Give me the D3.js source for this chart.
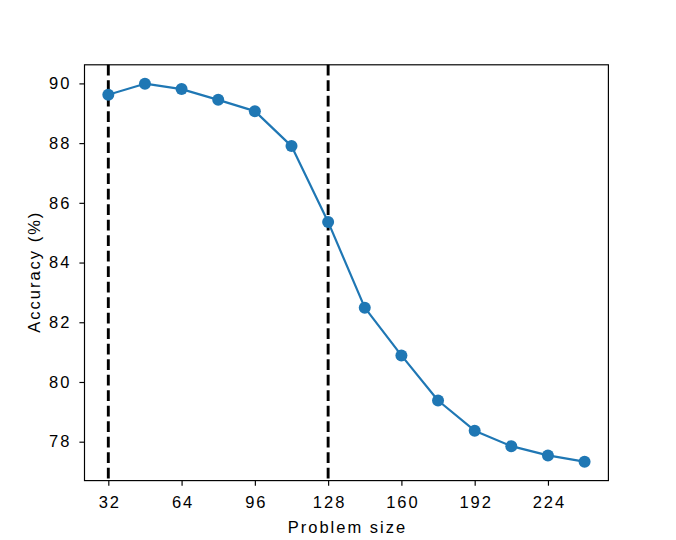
<!DOCTYPE html>
<html><head><meta charset="utf-8">
<script src="https://cdn.jsdelivr.net/npm/d3@7"></script>
<style>body{margin:0;background:#fff}svg{display:block}text{font-family:"Liberation Sans",sans-serif;letter-spacing:2px}</style>
</head><body><svg id="c" width="676" height="540"></svg>
<script>
const problemSizes = [32,48,64,80,96,112,128,144,160,176,192,208,224,240];
const accuracy = [89.62,89.99,89.81,89.45,89.07,87.90,85.36,82.49,80.89,79.38,78.37,77.85,77.54,77.33];
const xTicks = [32,64,96,128,160,192,224];
const yTicks = [78,80,82,84,86,88,90];
const vLines = [32,128];
const xLabel = "Problem size", yLabel = "Accuracy (%)";

const W=676,H=540, L=84.5,R=608.4,T=64.8,B=480.6;
const svg=d3.select("#c");
const xmin=d3.min(problemSizes), xmax=d3.max(problemSizes), xp=(xmax-xmin)*0.05;
const ymin=d3.min(accuracy), ymax=d3.max(accuracy), yp=(ymax-ymin)*0.05;
const x=d3.scaleLinear().domain([xmin-xp,xmax+xp]).range([L,R]);
const y=d3.scaleLinear().domain([ymin-yp,ymax+yp]).range([B,T]);
const fs=16.5, ls=2;

svg.append("g").selectAll("line").data(vLines).join("line")
  .attr("x1",d=>x(d)).attr("x2",d=>x(d)).attr("y1",T).attr("y2",B)
  .attr("stroke","#000").attr("stroke-width",2.9).attr("stroke-dasharray","10.8,4.7");

const pts=problemSizes.map((p,i)=>[p,accuracy[i]]);
svg.append("path").datum(pts)
  .attr("fill","none").attr("stroke","#1f77b4").attr("stroke-width",2.2)
  .attr("stroke-linejoin","round").attr("stroke-linecap","square")
  .attr("d",d3.line().x(d=>x(d[0])).y(d=>y(d[1])));
svg.append("g").selectAll("circle").data(pts).join("circle")
  .attr("cx",d=>x(d[0])).attr("cy",d=>y(d[1])).attr("r",6).attr("fill","#1f77b4");

const xa=svg.append("g").attr("transform",`translate(0,${B})`)
  .call(d3.axisBottom(x).tickValues(xTicks).tickSize(5.1).tickPadding(10.3));
const ya=svg.append("g").attr("transform",`translate(${L},0)`)
  .call(d3.axisLeft(y).tickValues(yTicks).tickSize(5.1).tickPadding(8.1));
[xa,ya].forEach(a=>{a.select(".domain").remove();
  a.selectAll("line").attr("stroke","#000").attr("stroke-width",1.17);
  a.selectAll("text").attr("font-size",fs).attr("fill","#000").attr("font-family","Liberation Sans");});
xa.selectAll("text").attr("dx",ls/2);

svg.append("rect").attr("x",L).attr("y",T).attr("width",R-L).attr("height",B-T)
  .attr("fill","none").attr("stroke","#000").attr("stroke-width",1.17);

svg.append("text").attr("x",(L+R)/2+ls/2).attr("y",533).attr("text-anchor","middle")
  .attr("font-size",fs).text(xLabel);
svg.append("text").attr("transform",`translate(39.5,${(T+B)/2-ls/2}) rotate(-90)`).attr("text-anchor","middle")
  .attr("font-size",fs).text(yLabel);
</script></body></html>
